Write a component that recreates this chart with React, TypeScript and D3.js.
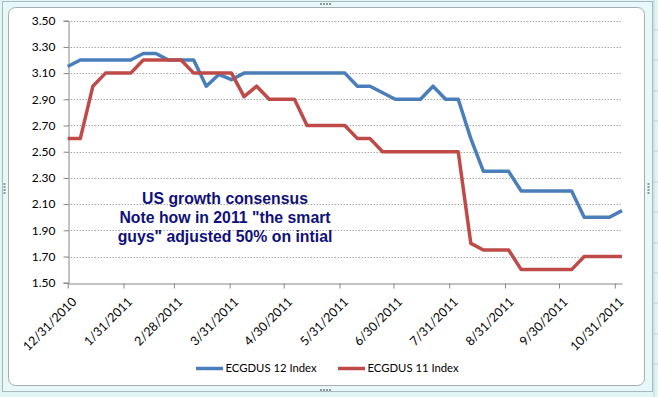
import React, { useRef, useEffect } from "react";
import * as d3 from "d3";

// weekly observations starting 12/31/2010
const startDate = "2010-12-31";
const weeks = 45;

const blueValues = [
  3.15, 3.2, 3.2, 3.2, 3.2, 3.2, 3.25, 3.25, 3.2, 3.2, 3.2, 3.0, 3.09, 3.05,
  3.1, 3.1, 3.1, 3.1, 3.1, 3.1, 3.1, 3.1, 3.1, 3.0, 3.0, 2.95, 2.9, 2.9, 2.9,
  3.0, 2.9, 2.9, 2.6, 2.35, 2.35, 2.35, 2.2, 2.2, 2.2, 2.2, 2.2, 2.0, 2.0, 2.0,
  2.05,
];

const redValues = [
  2.6, 2.6, 3.0, 3.1, 3.1, 3.1, 3.2, 3.2, 3.2, 3.2, 3.1, 3.1, 3.1, 3.1, 2.92,
  3.0, 2.9, 2.9, 2.9, 2.7, 2.7, 2.7, 2.7, 2.6, 2.6, 2.5, 2.5, 2.5, 2.5, 2.5,
  2.5, 2.5, 1.8, 1.75, 1.75, 1.75, 1.6, 1.6, 1.6, 1.6, 1.6, 1.7, 1.7, 1.7, 1.7,
];

const xTicks = [
  "2010-12-31", "2011-01-31", "2011-02-28", "2011-03-31", "2011-04-30",
  "2011-05-31", "2011-06-30", "2011-07-31", "2011-08-31", "2011-09-30",
  "2011-10-31",
];
const yTicks = [1.5, 1.7, 1.9, 2.1, 2.3, 2.5, 2.7, 2.9, 3.1, 3.3, 3.5];

const seriesNames = ["ECGDUS 12 Index", "ECGDUS 11 Index"];
const seriesColors = ["#4a7ebb", "#be4b48"];
const noteLines = [
  "US growth consensus",
  'Note how in 2011 "the smart',
  'guys" adjusted 50% on intial',
];

const W = 658;
const H = 397;
const margin = { top: 20.7, right: 36, bottom: 114.3, left: 67.7 };

const App: React.FC = () => {
  const svgRef = useRef<SVGSVGElement>(null);

  useEffect(() => {
    if (!svgRef.current) return;
    const svg = d3.select(svgRef.current);
    svg.selectAll("*").remove();

    const parse = d3.utcParse("%Y-%m-%d");
    const start = parse(startDate)!;
    const dates = d3.range(weeks).map((i) => d3.utcDay.offset(start, i * 7));

    const x = d3
      .scaleUtc()
      .domain([dates[0], dates[dates.length - 1]])
      .range([margin.left, W - margin.right]);
    const y = d3
      .scaleLinear()
      .domain([1.5, 3.5])
      .range([H - margin.bottom, margin.top]);

    // spreadsheet background
    svg.append("rect").attr("width", W).attr("height", H).attr("fill", "#e2f5f5");
    [654].forEach((gx) =>
      svg.append("line").attr("x1", gx).attr("x2", gx).attr("y1", 0).attr("y2", H)
        .attr("stroke", "#b9d3d6")
    );
    [30, 60, 91, 121, 151, 182, 212, 243, 273, 303, 334, 364].forEach((gy) =>
      svg.append("line").attr("x1", 652).attr("x2", W).attr("y1", gy).attr("y2", gy)
        .attr("stroke", "#b9d3d6")
    );

    // chart selection frame
    svg.append("rect").attr("x", 2.5).attr("y", 1.5).attr("width", 650).attr("height", 390)
      .attr("fill", "#e8f8f8").attr("stroke", "#a9b9bd");
    svg.append("rect").attr("x", 8.5).attr("y", 7.5).attr("width", 636).attr("height", 378)
      .attr("rx", 7).attr("fill", "#ffffff").attr("stroke", "#a3adb3");
    // handles
    const handle = (cx: number, cy: number, horiz: boolean) => {
      for (let k = 0; k < 4; k++) {
        svg.append("rect")
          .attr("x", horiz ? cx + k * 3 : cx).attr("y", horiz ? cy : cy + k * 3)
          .attr("width", 2).attr("height", 2).attr("fill", "#8e9aa0");
      }
    };
    handle(320, 3, true);
    handle(320, 389, true);
    handle(3.5, 183, false);
    handle(647.5, 183, false);

    // gridlines
    svg.append("g").selectAll("line").data(yTicks.slice(1)).join("line")
      .attr("x1", margin.left).attr("x2", W - margin.right)
      .attr("y1", (d) => Math.round(y(d)) + 0.5).attr("y2", (d) => Math.round(y(d)) + 0.5)
      .attr("stroke", "#7f7f7f").attr("stroke-dasharray", "1,2");

    const font = "Lato, 'Liberation Sans', sans-serif";

    // y axis
    const yAxis = svg.append("g")
      .attr("transform", `translate(${Math.round(margin.left) + 0.5},0)`)
      .call(d3.axisLeft(y).tickValues(yTicks).tickFormat(d3.format(".2f")).tickSize(5).tickPadding(8));
    yAxis.select(".domain").attr("stroke", "#868686");
    yAxis.selectAll(".tick line").attr("stroke", "#868686");
    yAxis.selectAll("text").attr("font-family", font).attr("font-size", 12).attr("fill", "#000");

    // x axis
    const xAxis = svg.append("g")
      .attr("transform", `translate(0,${Math.round(H - margin.bottom) + 0.5})`)
      .call(d3.axisBottom(x).tickValues(xTicks.map((t) => parse(t)!))
        .tickFormat((d) => d3.utcFormat("%-m/%-d/%Y")(d as Date)).tickSize(5).tickSizeOuter(0));
    xAxis.select(".domain").attr("stroke", "#868686");
    xAxis.selectAll(".tick line").attr("stroke", "#868686");
    xAxis.selectAll("text")
      .attr("font-family", font).attr("font-size", 12.5).attr("fill", "#000")
      .attr("text-anchor", "end").attr("dy", "0.35em")
      .attr("transform", "translate(6,16) rotate(-45)")
      .attr("y", 0);

    // lines
    const line = d3.line<number>()
      .x((_, i) => x(dates[i]))
      .y((d) => y(d));
    [blueValues, redValues].forEach((vals, si) => {
      svg.append("path").datum(vals)
        .attr("fill", "none").attr("stroke", seriesColors[si])
        .attr("stroke-width", 3.5).attr("stroke-linejoin", "round")
        .attr("d", line);
    });

    // annotation
    svg.append("text")
      .attr("x", 225).attr("y", 203.5).attr("text-anchor", "middle")
      .attr("font-family", "'Liberation Sans', Arial, sans-serif")
      .attr("font-weight", "bold").attr("font-size", 15.8).attr("fill", "#10107c")
      .selectAll("tspan").data(noteLines).join("tspan")
      .attr("x", 225).attr("dy", (_, i) => (i === 0 ? 0 : 19.2))
      .text((d) => d);

    // legend
    const legendX = [196, 338];
    seriesNames.forEach((name, i) => {
      const g = svg.append("g").attr("transform", `translate(${legendX[i]},368.5)`);
      g.append("line").attr("x1", 0).attr("x2", 27).attr("y1", 0).attr("y2", 0)
        .attr("stroke", seriesColors[i]).attr("stroke-width", 3.5);
      g.append("text").attr("x", 29.5).attr("y", 0).attr("dy", "0.35em")
        .attr("font-family", font).attr("font-size", 11.3).attr("fill", "#000")
        .text(name);
    });
  }, []);

  return (
    <svg
      ref={svgRef}
      width={W}
      height={H}
      style={{ position: "absolute", left: 0, top: 0 }}
    ></svg>
  );
};

export default App;
